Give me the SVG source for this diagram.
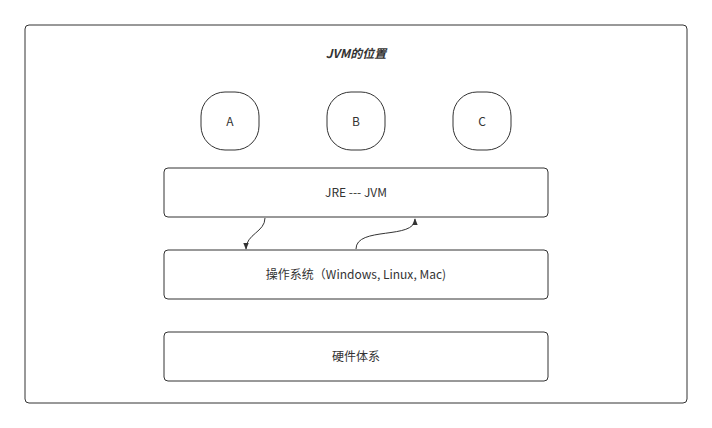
<svg xmlns="http://www.w3.org/2000/svg" width="712" height="428" viewBox="0 0 712 428">
<style>
.b{fill:#fff;stroke:#333;stroke-width:1}
.c{fill:none;stroke:#333;stroke-width:1}
text{font-family:"Noto Sans CJK SC","Open Sans",sans-serif;font-size:12px;fill:#333;text-anchor:middle}
</style>
<defs><marker id="m" viewBox="0 0 10 10" refX="9" refY="5" markerWidth="7" markerHeight="7" orient="auto"><path d="M0,1 L10,5 L0,9 Z" fill="#333"/></marker></defs>
<rect width="712" height="428" fill="#fff"/>
<g id="frame"><rect class="b" x="25" y="25" width="662" height="378" rx="4"/>
<text x="356" y="58" font-style="italic" font-weight="bold" font-size="13">JVM的位置</text></g>
<g id="A"><rect class="b" x="201" y="92" width="58" height="58" rx="24"/><text x="230" y="126">A</text></g>
<g id="B"><rect class="b" x="327" y="92" width="58" height="58" rx="24"/><text x="356" y="126">B</text></g>
<g id="C"><rect class="b" x="453" y="92" width="58" height="58" rx="24"/><text x="482" y="126">C</text></g>
<g id="jre"><rect class="b" x="164" y="168" width="384" height="49" rx="4"/><text x="356" y="197">JRE --- JVM</text></g>
<g id="os"><rect class="b" x="164" y="250" width="384" height="49" rx="4"/><text x="356" y="279">操作系统（Windows, Linux, Mac)</text></g>
<g id="hw"><rect class="b" x="164" y="332" width="384" height="49" rx="4"/><text x="356" y="361">硬件体系</text></g>
<g id="connectors">
<path class="c" d="M265,218 C265,232 246,234 246,249" marker-end="url(#m)"/>
<path class="c" d="M356,249 C356,226 415,240 415,219" marker-end="url(#m)"/>
</g>
</svg>
